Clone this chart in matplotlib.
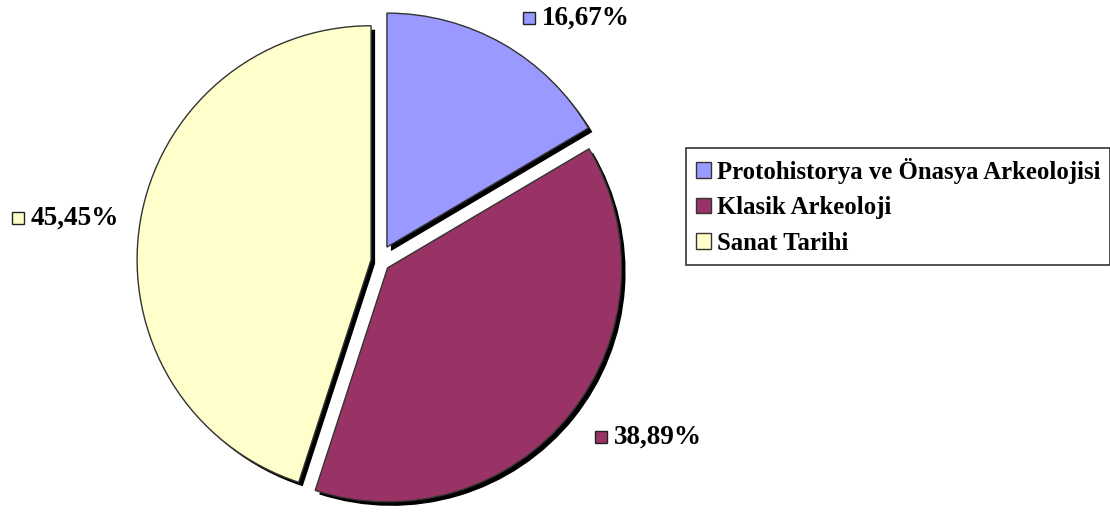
import matplotlib
matplotlib.use('Agg')
import matplotlib.pyplot as plt

# data
categories = ['Protohistorya ve Önasya Arkeolojisi', 'Klasik Arkeoloji', 'Sanat Tarihi']
percentages = [16.67, 38.89, 45.45]
colors = ['#9999FF', '#993366', '#FFFFCC']

# layout (pixels, figure is 1110x512, axes span the whole figure)
W, H = 1110, 512
center = (379, 251)
radius = 234
explode = [16, 11, 8]
shadow_offset = (4, -4)
# label anchors (left of the marker square, vertical centre) in pixels from bottom-left
label_pos = [(523, 494), (595, 75), (12, 294)]

plt.rcParams['font.family'] = ['Liberation Serif', 'DejaVu Serif']
plt.rcParams['font.weight'] = 'bold'

fig = plt.figure(figsize=(W / 100, H / 100), dpi=100)
ax = fig.add_axes([0, 0, 1, 1])

# shadow pie
ax.pie(percentages, colors=['black'] * 3, explode=explode, radius=radius,
       startangle=90, counterclock=False,
       center=(center[0] + shadow_offset[0], center[1] + shadow_offset[1]),
       wedgeprops=dict(linewidth=0))

wedges, _ = ax.pie(percentages, colors=colors, explode=explode, radius=radius,
                   startangle=90, counterclock=False, center=center,
                   wedgeprops=dict(edgecolor='#333333', linewidth=1.0))

for (x, y), pct, col in zip(label_pos, percentages, colors):
    ax.plot(x + 6, y, marker='s', ms=8.5, mfc=col, mec='#222222', mew=1.0,
            clip_on=False)
    ax.text(x + 19, y, f'{pct:.2f}'.replace('.', ',') + '%', fontsize=19.5,
            fontweight='bold', ha='left', va='center', color='black')

leg = ax.legend(wedges, categories, loc='upper left',
                bbox_to_anchor=(686 / W, 364 / H), bbox_transform=fig.transFigure,
                borderaxespad=0, fontsize=17.8, frameon=True, fancybox=False,
                handlelength=0.6, handleheight=0.6, handletextpad=0.25,
                labelspacing=0.5, borderpad=0.4)
leg.get_frame().set_edgecolor('black')
leg.get_frame().set_linewidth(1.2)
for t in leg.get_texts():
    t.set_fontweight('bold')

ax.set_xlim(0, W)
ax.set_ylim(0, H)
ax.set_aspect('equal')
ax.axis('off')

fig.savefig('out.png', dpi=100, facecolor='white')
